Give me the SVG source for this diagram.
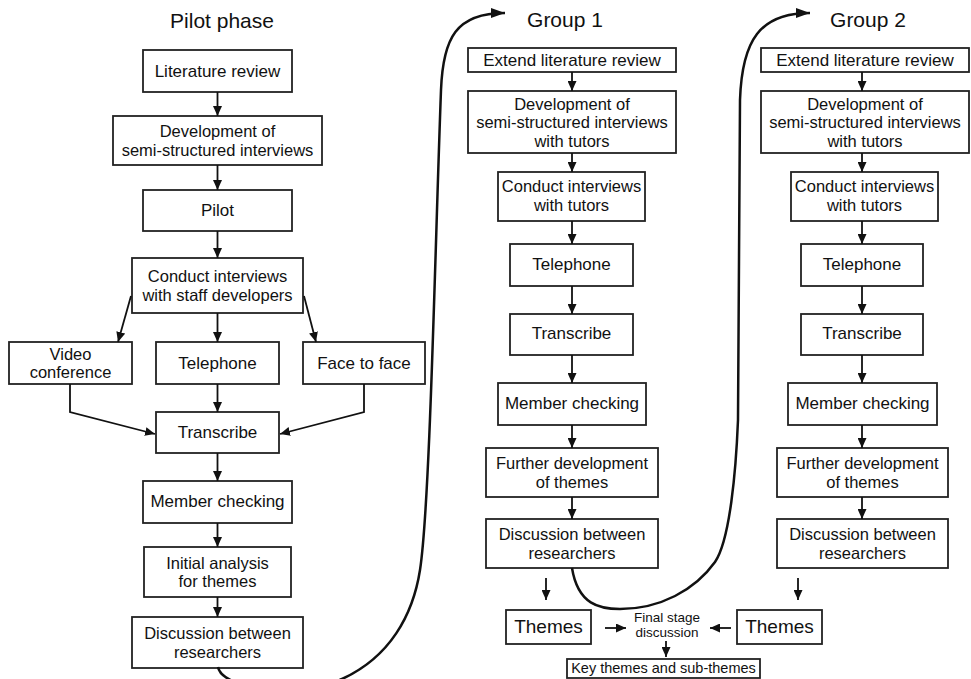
<svg xmlns="http://www.w3.org/2000/svg" width="971" height="679" viewBox="0 0 971 679">
<defs>
<marker id="ah" markerUnits="userSpaceOnUse" markerWidth="10" markerHeight="9" refX="10" refY="4.5" orient="auto">
<path d="M0,0 L10,4.5 L0,9 z" fill="#111"/>
</marker>
<marker id="ahb" markerUnits="userSpaceOnUse" markerWidth="14" markerHeight="10" refX="14" refY="5" orient="auto">
<path d="M0,0 L14,5 L0,10 z" fill="#111"/>
</marker>
<style>
rect{fill:#fff;stroke:#222;stroke-width:1.8}
text{font-family:"Liberation Sans",Arial,Helvetica,sans-serif;fill:#111;text-anchor:middle;font-size:17px}
.m{font-size:16.5px}
.t{font-size:21px}
.th{font-size:19px}
.s{font-size:13.5px}
.k{font-size:14.5px}
.c line,.c polyline{stroke:#111;stroke-width:1.8;fill:none;marker-end:url(#ah)}
.c path{stroke:#111;stroke-width:2.5;fill:none;marker-end:url(#ahb)}
</style>
</defs>
<rect x="0" y="0" width="971" height="679" style="fill:#fff;stroke:none"/>
<text class="t" x="222" y="28">Pilot phase</text>
<text class="t" x="565" y="27">Group 1</text>
<text class="t" x="868" y="27">Group 2</text>

<g id="p-lit"><rect x="143" y="50" width="149" height="42"/><text x="217.5" y="77">Literature review</text></g>
<g id="p-dev"><rect x="113" y="116" width="209" height="49"/><text class="m" x="217.5" y="137">Development of<tspan x="217.5" dy="18.5">semi-structured interviews</tspan></text></g>
<g id="p-pilot"><rect x="143" y="190" width="149" height="41"/><text x="217.5" y="216">Pilot</text></g>
<g id="p-conduct"><rect x="132" y="258" width="171" height="55"/><text class="m" x="217.5" y="282">Conduct interviews<tspan x="217.5" dy="18.5">with staff developers</tspan></text></g>
<g id="p-video"><rect x="9" y="342" width="123" height="42"/><text class="m" x="70.5" y="359.5">Video<tspan x="70.5" dy="18.5">conference</tspan></text></g>
<g id="p-tel"><rect x="156" y="342" width="123" height="42"/><text x="217.5" y="369">Telephone</text></g>
<g id="p-face"><rect x="303" y="342" width="122" height="42"/><text x="364" y="369">Face to face</text></g>
<g id="p-trans"><rect x="156" y="412" width="123" height="41"/><text x="217.5" y="438">Transcribe</text></g>
<g id="p-member"><rect x="143" y="481" width="149" height="42"/><text x="217.5" y="507">Member checking</text></g>
<g id="p-initial"><rect x="144" y="547" width="147" height="50"/><text class="m" x="217.5" y="568.5">Initial analysis<tspan x="217.5" dy="18.5">for themes</tspan></text></g>
<g id="p-disc"><rect x="132" y="617" width="171" height="51"/><text class="m" x="217.5" y="639">Discussion between<tspan x="217.5" dy="18.5">researchers</tspan></text></g>

<g id="g1-ext"><rect x="468" y="48" width="208" height="24"/><text x="572" y="66">Extend literature review</text></g>
<g id="g1-dev"><rect x="468" y="91" width="208" height="62"/><text class="m" x="572" y="109.5">Development of<tspan x="572" dy="18.5">semi-structured interviews</tspan><tspan x="572" dy="18.5">with tutors</tspan></text></g>
<g id="g1-conduct"><rect x="498" y="172" width="147" height="49"/><text class="m" x="571.5" y="192">Conduct interviews<tspan x="571.5" dy="18.5">with tutors</tspan></text></g>
<g id="g1-tel"><rect x="510" y="244" width="123" height="42"/><text x="571.5" y="270">Telephone</text></g>
<g id="g1-trans"><rect x="510" y="314" width="123" height="41"/><text x="571.5" y="339">Transcribe</text></g>
<g id="g1-member"><rect x="498" y="383" width="148" height="42"/><text x="572" y="409">Member checking</text></g>
<g id="g1-further"><rect x="486" y="448" width="172" height="49"/><text class="m" x="572" y="469">Further development<tspan x="572" dy="18.5">of themes</tspan></text></g>
<g id="g1-disc"><rect x="486" y="519" width="172" height="49"/><text class="m" x="572" y="540">Discussion between<tspan x="572" dy="18.5">researchers</tspan></text></g>
<g id="g1-themes"><rect x="506" y="610" width="85" height="34"/><text class="th" x="548.5" y="633">Themes</text></g>

<g id="g2-ext"><rect x="761" y="48" width="208" height="24"/><text x="865" y="66">Extend literature review</text></g>
<g id="g2-dev"><rect x="761" y="91" width="208" height="62"/><text class="m" x="865" y="109.5">Development of<tspan x="865" dy="18.5">semi-structured interviews</tspan><tspan x="865" dy="18.5">with tutors</tspan></text></g>
<g id="g2-conduct"><rect x="791" y="172" width="147" height="49"/><text class="m" x="864.5" y="192">Conduct interviews<tspan x="864.5" dy="18.5">with tutors</tspan></text></g>
<g id="g2-tel"><rect x="801" y="244" width="122" height="42"/><text x="862" y="270">Telephone</text></g>
<g id="g2-trans"><rect x="801" y="314" width="122" height="41"/><text x="862" y="339">Transcribe</text></g>
<g id="g2-member"><rect x="788" y="383" width="149" height="42"/><text x="862.5" y="409">Member checking</text></g>
<g id="g2-further"><rect x="777" y="448" width="171" height="49"/><text class="m" x="862.5" y="469">Further development<tspan x="862.5" dy="18.5">of themes</tspan></text></g>
<g id="g2-disc"><rect x="777" y="519" width="171" height="49"/><text class="m" x="862.5" y="540">Discussion between<tspan x="862.5" dy="18.5">researchers</tspan></text></g>
<g id="g2-themes"><rect x="737" y="610" width="85" height="34"/><text class="th" x="779.5" y="633">Themes</text></g>

<g id="final"><text class="s" x="667" y="622">Final stage<tspan x="667" dy="15.2">discussion</tspan></text></g>
<g id="key"><rect x="567" y="659" width="193" height="19"/><text class="k" x="663.5" y="673">Key themes and sub-themes</text></g>

<g id="connectors" class="c">
<line x1="217.5" y1="92" x2="217.5" y2="116"/>
<line x1="217.5" y1="165" x2="217.5" y2="190"/>
<line x1="217.5" y1="231" x2="217.5" y2="258"/>
<line x1="217.5" y1="313" x2="217.5" y2="342"/>
<line x1="131" y1="296" x2="118" y2="342"/>
<line x1="304" y1="296" x2="316" y2="342"/>
<line x1="217.5" y1="384" x2="217.5" y2="412"/>
<polyline points="70,384 70,412 155,434"/>
<polyline points="364,384 364,412 280,434"/>
<line x1="217.5" y1="453" x2="217.5" y2="481"/>
<line x1="217.5" y1="523" x2="217.5" y2="547"/>
<line x1="217.5" y1="597" x2="217.5" y2="617"/>

<line x1="572" y1="72" x2="572" y2="91"/>
<line x1="572" y1="153" x2="572" y2="172"/>
<line x1="572" y1="221" x2="572" y2="244"/>
<line x1="572" y1="286" x2="572" y2="314"/>
<line x1="572" y1="355" x2="572" y2="383"/>
<line x1="572" y1="425" x2="572" y2="448"/>
<line x1="572" y1="497" x2="572" y2="519"/>

<line x1="862" y1="72" x2="862" y2="91"/>
<line x1="862" y1="153" x2="862" y2="172"/>
<line x1="862" y1="221" x2="862" y2="244"/>
<line x1="862" y1="286" x2="862" y2="314"/>
<line x1="862" y1="355" x2="862" y2="383"/>
<line x1="862" y1="425" x2="862" y2="448"/>
<line x1="862" y1="497" x2="862" y2="519"/>

<line x1="546" y1="578" x2="546" y2="600"/>
<line x1="798" y1="578" x2="798" y2="600"/>
<line x1="605" y1="628" x2="626" y2="628"/>
<line x1="731" y1="628" x2="710" y2="628"/>
<line x1="666" y1="641" x2="666" y2="657"/>

<path d="M218,667 C222,690 300,698 342,679 C390,657 413,615 420,570 C430,505 435,250 441,90 C443,38 456,13 505,13"/>
<path d="M572,568 C578,605 600,609 620,609 C660,609 695,590 715,562 C730,540 736,470 738,420 L740,100 C742,40 760,13 810,13"/>
</g>
</svg>
